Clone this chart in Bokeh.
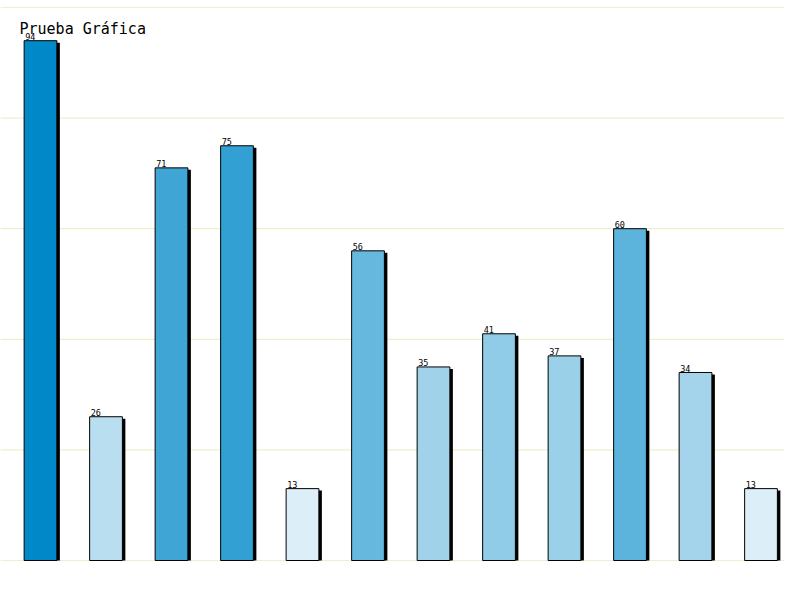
from bokeh.plotting import figure
from bokeh.models import Range1d, Span, Label, ColumnDataSource
from bokeh.embed import file_html
from bokeh.resources import INLINE
from bokeh.core.properties import value

# ---- data ----
title_text = "Prueba Gráfica"
categories = list(range(12))
values = [94, 26, 71, 75, 13, 56, 35, 41, 37, 60, 34, 13]
labels = [str(v) for v in values]
bar_colors = ["#0088c8", "#b8def0", "#3ea5d5", "#33a0d3", "#dceef7", "#67b8de",
              "#a0d3ea", "#90cbe7", "#9bd0e9", "#5cb3dc", "#a3d4eb", "#dceef7"]
grid_values = [0, 20, 40, 60, 80, 100]

# ---- geometry (styles) ----
W, H = 784, 584
px_x = 65.5          # pixels per category
px_y = 5.53          # pixels per unit value
x0 = (0 - 40) / px_x
x1 = x0 + W / px_x
y1 = (560 - 0) / px_y
y0 = y1 - H / px_y
bar_w = 0.5
sh_dx = 3 / px_x
sh_dy = 2 / px_y

p = figure(width=W, height=H, output_backend="svg", toolbar_location=None,
           x_range=Range1d(x0, x1), y_range=Range1d(y0, y1),
           x_axis_type=None, y_axis_type=None, min_border=0)
p.outline_line_color = None
p.background_fill_color = "white"
p.border_fill_color = "white"
p.xgrid.visible = False
p.ygrid.visible = False

for g in grid_values:
    p.add_layout(Span(location=g, dimension="width", line_color="#eef0cc",
                      line_width=1.2, level="underlay"))

src = ColumnDataSource(dict(
    x=categories, top=values, color=bar_colors, label=labels,
    sl=[c - bar_w / 2 + sh_dx for c in categories],
    sr=[c + bar_w / 2 + sh_dx for c in categories],
    st=[v - sh_dy for v in values],
    lx=[c - bar_w / 2 for c in categories],
))

p.quad(left="sl", right="sr", bottom=0, top="st", source=src,
       fill_color="black", line_color=None)
p.vbar(x="x", top="top", bottom=0, width=bar_w, source=src,
       fill_color="color", line_color="black", line_width=1)
p.text(x="lx", y="top", text="label", source=src, x_offset=1, y_offset=-4,
       text_font=value("DejaVu Sans Mono"), text_font_size="8.5px",
       text_align="left", text_baseline="alphabetic", text_color="black")

p.add_layout(Label(x=19, y=H - 28, x_units="screen", y_units="screen",
                   text=title_text, text_font="DejaVu Sans Mono",
                   text_font_size="15px", text_color="black",
                   text_baseline="alphabetic", text_align="left"))

open("out.html", "w").write(file_html(p, INLINE))
